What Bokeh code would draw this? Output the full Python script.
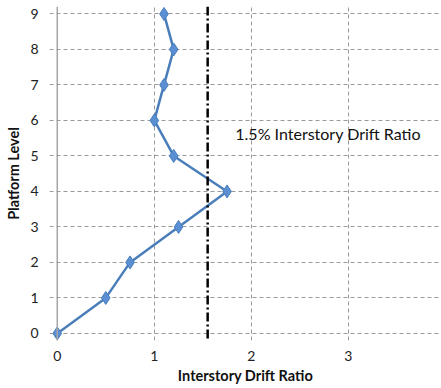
from bokeh.plotting import figure
from bokeh.models import Range1d, Span, FixedTicker, Label
from bokeh.embed import file_html
from bokeh.resources import INLINE

# Data
drift = [0.0, 0.5, 0.75, 1.25, 1.75, 1.2, 1.0, 1.1, 1.2, 1.1]
level = [0, 1, 2, 3, 4, 5, 6, 7, 8, 9]
limit_drift = 1.55
limit_label = "1.5%  Interstory Drift Ratio"
x_ticks = [0, 1, 2, 3]
y_ticks = list(range(10))

p = figure(width=441, height=388, output_backend="svg", toolbar_location=None,
           x_range=Range1d(-0.08, 3.96), y_range=Range1d(-0.2, 9.21),
           min_border_left=49, min_border_right=0, min_border_top=6,
           min_border_bottom=48)
p.outline_line_color = None
p.background_fill_color = "white"
p.border_fill_color = "white"

FONT = "Lato"
for ax in (p.xaxis[0], p.yaxis[0]):
    ax.axis_line_color = None
    ax.major_tick_line_color = None
    ax.minor_tick_line_color = None
    ax.major_label_text_font = FONT
    ax.major_label_text_font_size = "14px"
    ax.major_label_text_color = "#222222"
    ax.axis_label_text_font = FONT
    ax.axis_label_text_font_style = "bold"
    ax.axis_label_text_font_size = "14.5px"
    ax.axis_label_text_color = "#111111"

p.xaxis.ticker = FixedTicker(ticks=x_ticks)
p.yaxis.ticker = FixedTicker(ticks=y_ticks)
p.xaxis.axis_label = "Interstory Drift Ratio"
p.yaxis.axis_label = "Platform Level"
p.xaxis.major_label_standoff = 4
p.xaxis.axis_label_standoff = 3
p.yaxis.major_label_standoff = 5
p.yaxis.axis_label_standoff = 5

for g in (p.xgrid[0], p.ygrid[0]):
    g.grid_line_color = "#9a9a9a"
    g.grid_line_dash = "4 3"
    g.grid_line_width = 1

# y axis line at x = 0
p.add_layout(Span(location=0, dimension="height", line_color="#a6a6a6", line_width=1.5))

# limit line
p.add_layout(Span(location=limit_drift, dimension="height", line_color="black",
                  line_width=2.5, line_dash="9 3 2 3"))

p.line(drift, level, line_color="#4a7ebb", line_width=2.5)
p.scatter(drift, level, marker="diamond", size=13, fill_color="#5b8fd3",
          line_color="#4a7ebb", line_width=1)

p.add_layout(Label(x=1.835, y=5.63, text=limit_label, text_font=FONT,
                   text_font_size="16px", text_color="#111111",
                   text_baseline="middle"))

open("out.html", "w").write(file_html(p, INLINE))
